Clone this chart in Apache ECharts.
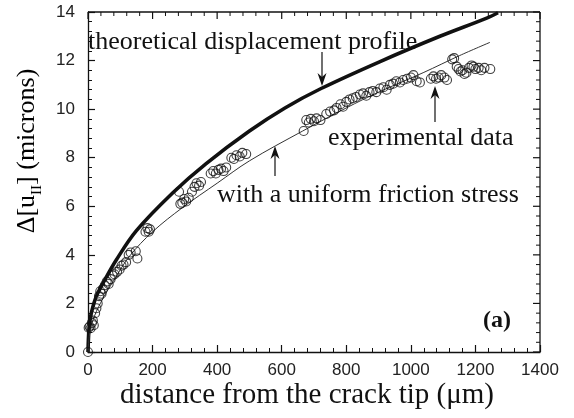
<!DOCTYPE html>
<html>
<head>
<meta charset="utf-8">
<script src="https://cdn.jsdelivr.net/npm/echarts@6/dist/echarts.min.js"></script>
<style>
  html, body { margin: 0; padding: 0; background: #fff; }
  #chart { width: 574px; height: 418px; }
</style>
</head>
<body>
<div id="chart"></div>
<script>
// Axis ranges and tick labels
const xTickValues = [0, 200, 400, 600, 800, 1000, 1200, 1400];
const yTickValues = [0, 2, 4, 6, 8, 10, 12, 14];

// Theoretical displacement profile (thick curve): [distance µm, Δ[u_II] µm]
const theoretical = [
  [0, 0], [3, 0.95], [8, 1.45], [15, 1.85], [26, 2.3], [47, 2.85], [88, 3.8],
  [150, 5.0], [262, 6.55], [365, 7.75], [500, 9.1], [610, 10.05], [722, 10.85],
  [903, 11.95], [1090, 13.0], [1235, 13.75], [1270, 13.97]
];

// Model with a uniform friction stress (thin curve)
const frictionFit = [
  [0, 0], [4, 0.65], [15, 1.3], [40, 2.05], [80, 2.95], [129, 3.95], [200, 4.95],
  [293, 5.95], [400, 6.95], [500, 7.87], [665, 9.1], [800, 10.05], [900, 10.7],
  [1038, 11.5], [1150, 12.2], [1245, 12.75]
];

// Experimental data (open circles)
const experimental = [
  [0, 0], [2, 1.0], [5, 1.05], [8, 0.98], [12, 1.2], [15, 1.3], [18, 1.1],
  [22, 1.6], [26, 1.8], [30, 2.0], [34, 2.3], [38, 2.5], [42, 2.4], [46, 2.6],
  [52, 2.75], [58, 2.9], [64, 2.8], [70, 3.0], [76, 3.15], [82, 3.2], [90, 3.3],
  [98, 3.4], [104, 3.55], [110, 3.6], [118, 3.7], [126, 4.0], [132, 4.1],
  [148, 4.15], [153, 3.85], [178, 4.95], [184, 5.1], [188, 4.95], [192, 5.05],
  [282, 6.6], [286, 6.1], [292, 6.15], [298, 6.3], [304, 6.2], [312, 6.35],
  [322, 6.6], [330, 6.8], [336, 6.95], [344, 6.85], [350, 7.0], [380, 7.35],
  [388, 7.45], [396, 7.35], [404, 7.5], [412, 7.55], [420, 7.45], [428, 7.6],
  [444, 8.0], [452, 7.95], [460, 8.1], [470, 8.05], [478, 8.2], [490, 8.15],
  [668, 9.1], [676, 9.55], [684, 9.45], [690, 9.6], [700, 9.5], [708, 9.62],
  [720, 9.55], [738, 9.8], [750, 9.9], [762, 9.95], [770, 10.05], [782, 10.2],
  [790, 10.1], [800, 10.3], [810, 10.4], [820, 10.45], [830, 10.5], [842, 10.6],
  [852, 10.65], [862, 10.55], [872, 10.7], [882, 10.75], [893, 10.7], [904, 10.85],
  [915, 10.9], [925, 10.8], [935, 11.0], [945, 11.05], [955, 11.15], [966, 11.1],
  [976, 11.2], [988, 11.25], [1000, 11.3], [1008, 11.4], [1018, 11.15], [1028, 11.1],
  [1062, 11.25], [1070, 11.35], [1078, 11.25], [1086, 11.3], [1094, 11.4],
  [1104, 11.3], [1112, 11.2], [1128, 12.05], [1134, 12.1], [1142, 11.75],
  [1148, 11.65], [1154, 11.55], [1160, 11.6], [1166, 11.45], [1172, 11.5],
  [1180, 11.7], [1188, 11.8], [1194, 11.75], [1200, 11.65], [1210, 11.7],
  [1218, 11.6], [1228, 11.7], [1246, 11.65]
];

const INK = '#111';
const serif = '"Liberation Serif", "Times New Roman", serif';
const sans = '"Liberation Sans", Arial, sans-serif';
const MINOR_SPLIT = 5, MAJOR_LEN = 7, MINOR_LEN = 4;
const GRID = { left: 88, top: 12, width: 452, height: 340 };

function axisBase(extra) {
  return Object.assign({
    type: 'value',
    axisLine: { show: true, onZero: false, lineStyle: { color: INK, width: 1.3 } },
    axisTick: { show: true, inside: true, length: MAJOR_LEN, lineStyle: { color: INK, width: 1.2 } },
    minorTick: { show: true, splitNumber: MINOR_SPLIT, length: MINOR_LEN, lineStyle: { color: INK, width: 1 } },
    splitLine: { show: false }
  }, extra);
}

const xMin = xTickValues[0], xMax = xTickValues[xTickValues.length - 1];
const yMin = yTickValues[0], yMax = yTickValues[yTickValues.length - 1];
const xStep = xTickValues[1] - xTickValues[0];
const yStep = yTickValues[1] - yTickValues[0];
const plainNumber = v => String(v);

// Arrow: shaft plus a notched head, tip at (x, ty)
function arrow(x, y0, ty) {
  const dir = ty < y0 ? -1 : 1;
  const hl = 13, hw = 4.5, notch = 4;
  return [
    { type: 'line', shape: { x1: x, y1: y0, x2: x, y2: ty - dir * (hl - notch) },
      style: { stroke: INK, lineWidth: 1.2 } },
    { type: 'polygon', shape: { points: [
        [x, ty], [x - hw, ty - dir * hl], [x, ty - dir * (hl - notch)], [x + hw, ty - dir * hl]
      ] }, style: { fill: INK } }
  ];
}

// Top and right edges of the frame with mirrored inward ticks
const frameLeft = GRID.left, frameRight = GRID.left + GRID.width;
const frameTop = GRID.top, frameBottom = GRID.top + GRID.height;
const toX = v => frameLeft + (v - xMin) / (xMax - xMin) * GRID.width;
const toY = v => frameBottom - (v - yMin) / (yMax - yMin) * GRID.height;
const frame = [
  { type: 'line', shape: { x1: frameLeft, y1: frameTop, x2: frameRight, y2: frameTop },
    style: { stroke: INK, lineWidth: 1.3 } },
  { type: 'line', shape: { x1: frameRight, y1: frameTop, x2: frameRight, y2: frameBottom },
    style: { stroke: INK, lineWidth: 1.3 } }
];
for (let i = 0; i <= (xMax - xMin) / xStep * MINOR_SPLIT; i++) {
  const px = toX(xMin + i * xStep / MINOR_SPLIT);
  const major = i % MINOR_SPLIT === 0;
  frame.push({ type: 'line',
               shape: { x1: px, y1: frameTop, x2: px, y2: frameTop + (major ? MAJOR_LEN : MINOR_LEN) },
               style: { stroke: INK, lineWidth: major ? 1.2 : 1 } });
}
for (let i = 0; i <= (yMax - yMin) / yStep * MINOR_SPLIT; i++) {
  const py = toY(yMin + i * yStep / MINOR_SPLIT);
  const major = i % MINOR_SPLIT === 0;
  frame.push({ type: 'line',
               shape: { x1: frameRight, y1: py, x2: frameRight - (major ? MAJOR_LEN : MINOR_LEN), y2: py },
               style: { stroke: INK, lineWidth: major ? 1.2 : 1 } });
}

const chart = echarts.init(document.getElementById('chart'));

chart.setOption({
  animation: false,
  grid: GRID,
  xAxis: axisBase({
    position: 'bottom', min: xMin, max: xMax, interval: xStep,
    axisLabel: { margin: 10, color: '#222', fontFamily: sans, fontSize: 17, formatter: plainNumber }
  }),
  yAxis: axisBase({
    position: 'left', min: yMin, max: yMax, interval: yStep,
    axisLabel: { margin: 13, color: '#222', fontFamily: sans, fontSize: 17, formatter: plainNumber }
  }),
  series: [
    {
      name: 'theoretical displacement profile', type: 'line', data: theoretical,
      smooth: 0.35, showSymbol: false, lineStyle: { color: INK, width: 3.6 }, z: 2
    },
    {
      name: 'with a uniform friction stress', type: 'line', data: frictionFit,
      smooth: 0.35, showSymbol: false, lineStyle: { color: '#333', width: 1 }, z: 2
    },
    {
      name: 'experimental data', type: 'scatter', data: experimental,
      symbol: 'circle', symbolSize: 9,
      itemStyle: { color: 'rgba(0,0,0,0)', borderColor: INK, borderWidth: 1.1 }, z: 3
    }
  ],
  graphic: frame.concat([
    { type: 'text', left: 88, top: 29, z: 10,
      style: { text: 'theoretical displacement profile', font: '26px ' + serif, fill: INK } },
    { type: 'text', left: 328, top: 125, z: 10,
      style: { text: 'experimental data', font: '26px ' + serif, fill: INK } },
    { type: 'text', left: 217, top: 182, z: 10,
      style: { text: 'with a uniform friction stress', font: '26px ' + serif, fill: INK } },
    { type: 'text', left: 483, top: 309, z: 10,
      style: { text: '(a)', font: 'bold 24px ' + serif, fill: INK } },
    { type: 'text', x: 307, y: 395, z: 10,
      style: { text: 'distance from the crack tip (μm)', font: '29px ' + serif, fill: INK,
               align: 'center', verticalAlign: 'middle' } },
    { type: 'text', x: 27, y: 151, rotation: Math.PI / 2, z: 10,
      style: {
        text: '{m|Δ[u}{s|II}{m|] (microns)}', align: 'center', verticalAlign: 'middle',
        rich: {
          m: { fontFamily: serif, fontSize: 26, color: INK, lineHeight: 36, verticalAlign: 'middle' },
          s: { fontFamily: serif, fontSize: 15, color: INK, lineHeight: 18, verticalAlign: 'bottom' }
        }
      } }
  ], arrow(322, 52, 86), arrow(275, 176, 146), arrow(435, 122, 86))
});
</script>
</body>
</html>
